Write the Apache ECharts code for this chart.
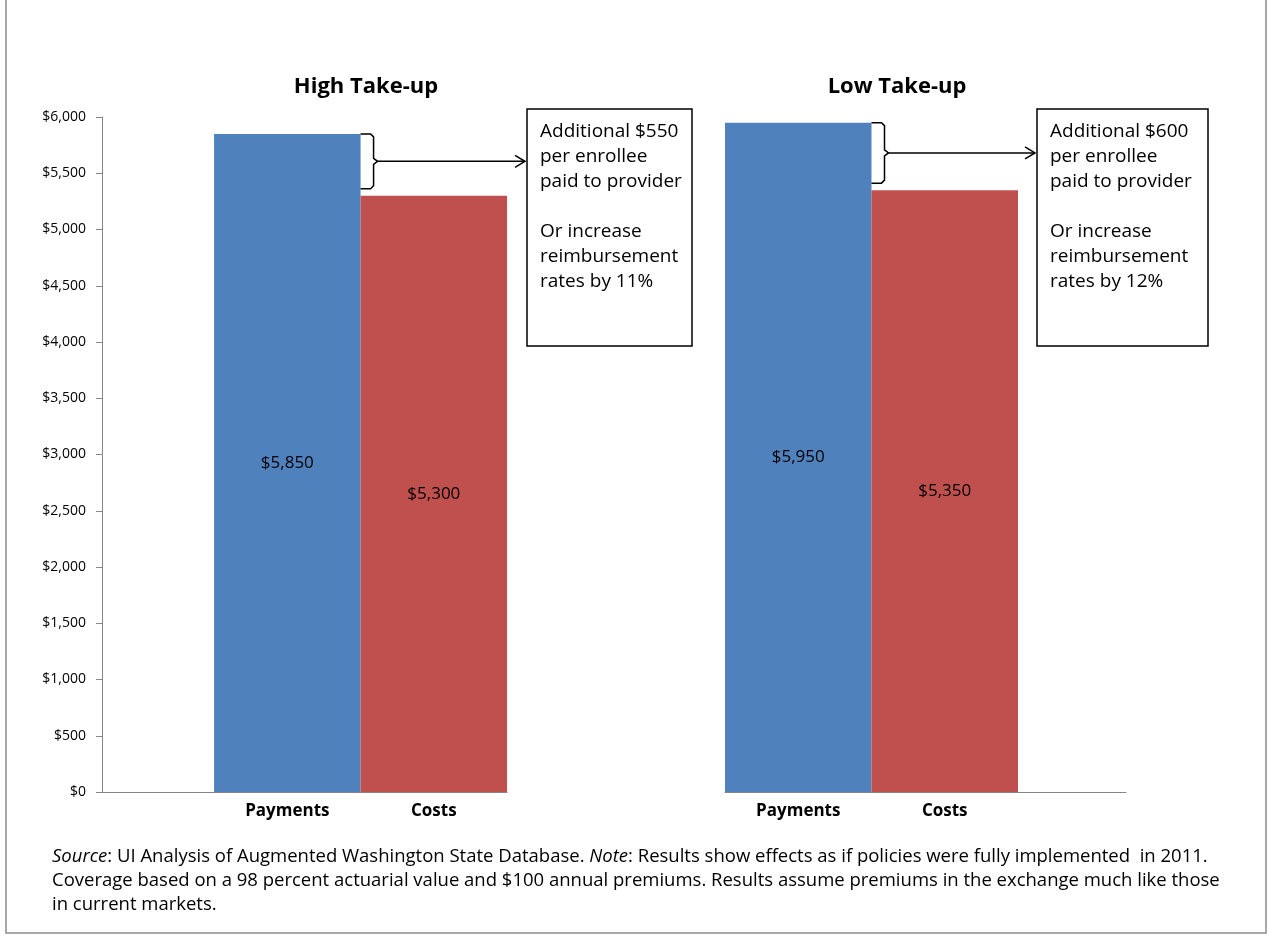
<!DOCTYPE html>
<html lang="en">
<head>
  <meta charset="UTF-8">
  <title>Payments vs Costs</title>
  <script src="https://cdn.jsdelivr.net/npm/echarts@6/dist/echarts.min.js"></script>
  <style>
    html, body { margin: 0; padding: 0; background: #fff; }
    #main { width: 1268px; height: 937px; }
  </style>
</head>
<body>
  <div id="main"></div>
  <script>
    // data
    var categories = ['Payments', 'Costs'];
    var highTakeup = [5850, 5300];
    var lowTakeup = [5950, 5350];
    var panelTitles = ['High Take-up', 'Low Take-up'];
    var noteHigh = ['Additional $550', 'per enrollee', 'paid to provider', '', 'Or increase', 'reimbursement', 'rates by 11%'];
    var noteLow = ['Additional $600', 'per enrollee', 'paid to provider', '', 'Or increase', 'reimbursement', 'rates by 12%'];
    var yMin = 0, yMax = 6000, yStep = 500;

    // layout (bar width is the x unit on both panels)
    var BAR_PX = 146.5;
    var FONT = '"Open Sans", "Liberation Sans", sans-serif';
    var colors = ['#4f81bd', '#c0504d'];
    var axisColor = '#868686';
    var panels = [
      { left: 102, width: 405, pos: [1.265, 2.265], data: highTakeup, title: panelTitles[0], titleX: 366, note: noteHigh, boxX: 527, boxW: 165 },
      { left: 725, width: 401, pos: [0.5, 1.5], data: lowTakeup, title: panelTitles[1], titleX: 897, note: noteLow, boxX: 1037, boxW: 171 }
    ];
    var GRID_TOP = 117, GRID_BOTTOM = 792;

    function money(v) {
      return '$' + v.toString().replace(/\B(?=(\d{3})+(?!\d))/g, ',');
    }

    var chart = echarts.init(document.getElementById('main'));

    var grids = [], xAxes = [], yAxes = [], series = [];
    panels.forEach(function (p, k) {
      grids.push({ left: p.left, width: p.width, top: GRID_TOP, height: GRID_BOTTOM - GRID_TOP });
      xAxes.push({
        type: 'value', gridIndex: k, min: 0, max: p.width / BAR_PX,
        splitLine: { show: false },
        axisTick: { show: false },
        axisLine: { show: true, lineStyle: { color: axisColor, width: 1 } },
        axisLabel: {
          customValues: p.pos,
          margin: 11,
          fontFamily: FONT, fontSize: 17, fontWeight: 'bold', color: '#000',
          formatter: function (v) {
            for (var i = 0; i < p.pos.length; i++) {
              if (Math.abs(p.pos[i] - v) < 0.01) return categories[i];
            }
            return '';
          }
        }
      });
      yAxes.push({
        type: 'value', gridIndex: k, min: yMin, max: yMax, interval: yStep,
        show: k === 0,
        splitLine: { show: false },
        axisLine: { show: true, lineStyle: { color: axisColor, width: 1 } },
        axisTick: { show: true, length: 6, lineStyle: { color: axisColor } },
        axisLabel: {
          margin: 16, fontFamily: FONT, fontSize: 14, color: '#000',
          formatter: function (v) { return money(v); }
        }
      });
      series.push({
        type: 'bar', xAxisIndex: k, yAxisIndex: k,
        barWidth: BAR_PX,
        data: p.data.map(function (v, i) {
          return { value: [p.pos[i], v], itemStyle: { color: colors[i] } };
        }),
        label: {
          show: true, position: 'inside',
          fontFamily: FONT, fontSize: 17, color: '#000',
          formatter: function (d) { return money(d.value[1]); }
        },
        emphasis: { disabled: true }
      });
    });

    chart.setOption({
      backgroundColor: '#fff',
      animation: false,
      grid: grids,
      xAxis: xAxes,
      yAxis: yAxes,
      series: series
    });

    // annotations: titles, brackets, arrows, boxes, footnote, frame
    var g = [];
    g.push({
      type: 'rect', shape: { x: 6, y: -10, width: 1260, height: 943 },
      style: { fill: 'none', stroke: '#8c8c8c', lineWidth: 1.5 }, z: 10
    });

    panels.forEach(function (p, k) {
      g.push({
        type: 'text', x: p.titleX, y: 87,
        style: { text: p.title, fontFamily: FONT, fontSize: 22, fontWeight: 'bold', fill: '#000', align: 'center', verticalAlign: 'middle' }
      });

      var topPt = chart.convertToPixel({ xAxisIndex: k, yAxisIndex: k }, [p.pos[0], p.data[0]]);
      var botPt = chart.convertToPixel({ xAxisIndex: k, yAxisIndex: k }, [p.pos[1], p.data[1]]);
      var xe = topPt[0] + BAR_PX / 2;
      var yt = topPt[1];
      var yb = botPt[1] - 7;
      var ym = (yt + yb) / 2;
      g.push({
        type: 'polyline', z: 20,
        shape: { points: [[xe, yt], [xe + 10, yt], [xe + 13, yt + 3], [xe + 13, ym - 3], [xe + 17, ym], [xe + 13, ym + 3], [xe + 13, yb - 3], [xe + 10, yb], [xe, yb]] },
        style: { stroke: '#000', lineWidth: 1.5, fill: 'none' }
      });
      var tip = p.boxX - 2;
      g.push({
        type: 'line', z: 20,
        shape: { x1: xe + 17, y1: ym, x2: tip, y2: ym },
        style: { stroke: '#000', lineWidth: 1.5 }
      });
      g.push({
        type: 'polyline', z: 20,
        shape: { points: [[tip - 10, ym - 6], [tip, ym], [tip - 10, ym + 6]] },
        style: { stroke: '#000', lineWidth: 1.5, fill: 'none' }
      });

      g.push({
        type: 'rect', shape: { x: p.boxX, y: 109, width: p.boxW, height: 237 },
        style: { fill: '#fff', stroke: '#000', lineWidth: 1.5 }, z: 20
      });
      p.note.forEach(function (line, i) {
        if (!line) return;
        g.push({
          type: 'text', x: p.boxX + 13, y: 132 + i * 25, z: 21,
          style: { text: line, fontFamily: FONT, fontSize: 19, fill: '#000', align: 'left', verticalAlign: 'middle' }
        });
      });
    });

    var footBase = { fontFamily: FONT, fontSize: 18.5, fill: '#000' };
    g.push({
      type: 'text', x: 52, y: 857,
      style: {
        text: '{i|Source}: UI Analysis of Augmented Washington State Database. {i|Note}: Results show effects as if policies were fully implemented  in 2011.',
        fontFamily: FONT, fontSize: 18.5, fill: '#000', verticalAlign: 'middle',
        rich: { i: { fontFamily: FONT, fontSize: 18.5, fontStyle: 'italic', fill: '#000' } }
      }
    });
    g.push({
      type: 'text', x: 52, y: 881,
      style: Object.assign({ text: 'Coverage based on a 98 percent actuarial value and $100 annual premiums. Results assume premiums in the exchange much like those', verticalAlign: 'middle' }, footBase)
    });
    g.push({
      type: 'text', x: 52, y: 905,
      style: Object.assign({ text: 'in current markets.', verticalAlign: 'middle' }, footBase)
    });

    chart.setOption({ graphic: g });
  </script>
</body>
</html>
